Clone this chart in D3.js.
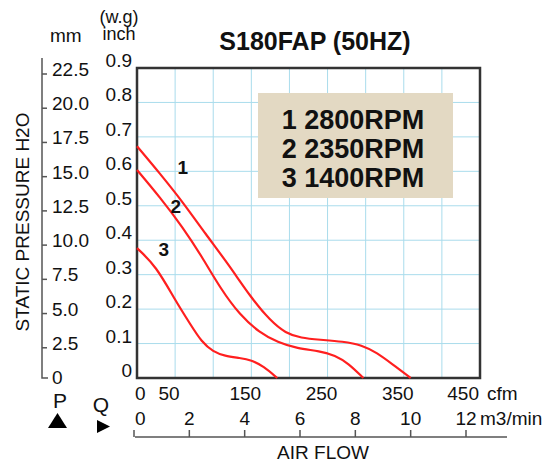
<!DOCTYPE html>
<html lang="en">
<head>
    <meta charset="UTF-8">
    <title>S180FAP (50HZ)</title>
    <style>
        html, body {
            margin: 0;
            padding: 0;
            background: #fff;
        }
        svg text {
            font-family: "Liberation Sans", Arial, sans-serif;
            fill: #111;
        }
    </style>
</head>
<body>
    <div id="chart"></div>

    <script src="https://d3js.org/d3.v7.min.js"></script>
    <script>
        // tick values
        const cfmLabels = [0, 50, 150, 250, 350, 450];
        const cfmGrid = [50, 100, 150, 200, 250, 300, 350, 400];
        const inchTicks = [0, 0.1, 0.2, 0.3, 0.4, 0.5, 0.6, 0.7, 0.8, 0.9];
        const mmTicks = [0, 2.5, 5.0, 7.5, 10.0, 12.5, 15.0, 17.5, 20.0, 22.5];
        const m3Ticks = [0, 2, 4, 6, 8, 10, 12];
        const legendLines = ['1 2800RPM', '2 2350RPM', '3 1400RPM'];

        // curves: [cfm, inch H2O]
        const curve2800 = [
            [0, 0.673], [30, 0.594], [60, 0.511], [90, 0.418], [120, 0.330],
            [150, 0.232], [175, 0.166], [195, 0.130], [215, 0.116], [240, 0.111],
            [270, 0.106], [295, 0.096], [315, 0.073], [335, 0.040], [359, 0]
        ];
        const curve2350 = [
            [0, 0.604], [30, 0.525], [60, 0.438], [85, 0.353], [110, 0.258],
            [135, 0.183], [160, 0.133], [185, 0.103], [210, 0.086], [240, 0.078],
            [260, 0.066], [277, 0.043], [297, 0]
        ];
        const curve1400 = [
            [0, 0.377], [25, 0.325], [50, 0.226], [70, 0.156], [85, 0.104],
            [100, 0.076], [115, 0.064], [135, 0.058], [150, 0.052], [166, 0.034],
            [184, 0]
        ];
        const curveTags = [
            { text: '1', at: [60, 0.592] },
            { text: '2', at: [51, 0.479] },
            { text: '3', at: [35, 0.354] }
        ];

        const width = 546, height = 466;
        const svg = d3.select('#chart').append('svg')
            .attr('width', width)
            .attr('height', height);

        const x = d3.scaleLinear().domain([0, 450]).range([137, 480]);
        const y = d3.scaleLinear().domain([0, 0.9]).range([378, 68]);
        const yMm = d3.scaleLinear().domain([0, 22.5]).range([382, 74]);
        const xM3 = d3.scaleLinear().domain([0, 12]).range([134, 466]);

        // grid
        svg.append('g').selectAll('line')
            .data(cfmGrid)
            .enter().append('line')
            .attr('x1', d => x(d)).attr('x2', d => x(d))
            .attr('y1', y(0.9)).attr('y2', y(0))
            .attr('stroke', '#a9dcec').attr('stroke-width', 1);

        svg.append('g').selectAll('line')
            .data(inchTicks.slice(1, -1))
            .enter().append('line')
            .attr('x1', x(0)).attr('x2', x(450))
            .attr('y1', d => y(d)).attr('y2', d => y(d))
            .attr('stroke', '#a9dcec').attr('stroke-width', 1);

        // legend box
        svg.append('rect')
            .attr('x', 258).attr('y', 93)
            .attr('width', 195).attr('height', 105)
            .attr('fill', '#e3d9c3');

        svg.append('g').selectAll('text')
            .data(legendLines)
            .enter().append('text')
            .attr('x', 353)
            .attr('y', (d, i) => 129 + i * 29)
            .attr('text-anchor', 'middle')
            .attr('font-size', '27px')
            .attr('font-weight', 'bold')
            .text(d => d);

        // plot frame
        svg.append('rect')
            .attr('x', x(0)).attr('y', y(0.9))
            .attr('width', x(450) - x(0))
            .attr('height', y(0) - y(0.9))
            .attr('fill', 'none')
            .attr('stroke', '#333')
            .attr('stroke-width', 2.5);

        // curves
        const line = d3.line()
            .x(d => x(d[0]))
            .y(d => y(d[1]))
            .curve(d3.curveBasis);

        svg.append('g').selectAll('path')
            .data([curve2800, curve2350, curve1400])
            .enter().append('path')
            .attr('d', line)
            .attr('fill', 'none')
            .attr('stroke', '#ff1f1f')
            .attr('stroke-width', 2.2);

        svg.append('g').selectAll('text')
            .data(curveTags)
            .enter().append('text')
            .attr('x', d => x(d.at[0]))
            .attr('y', d => y(d.at[1]))
            .attr('text-anchor', 'middle')
            .attr('font-size', '19px')
            .attr('font-weight', 'bold')
            .text(d => d.text);

        // title
        svg.append('text')
            .attr('x', 315).attr('y', 50)
            .attr('text-anchor', 'middle')
            .attr('font-size', '25px')
            .attr('font-weight', 'bold')
            .text('S180FAP (50HZ)');

        // inch axis labels
        svg.append('g').selectAll('text')
            .data(inchTicks)
            .enter().append('text')
            .attr('x', 132)
            .attr('y', d => y(d) - 1)
            .attr('text-anchor', 'end')
            .attr('font-size', '19px')
            .text(d => d === 0 ? '0' : d.toFixed(1));

        svg.append('text').attr('x', 119).attr('y', 23)
            .attr('text-anchor', 'middle').attr('font-size', '18px').text('(w.g)');
        svg.append('text').attr('x', 119).attr('y', 40)
            .attr('text-anchor', 'middle').attr('font-size', '18px').text('inch');

        // mm axis
        svg.append('path')
            .attr('d', `M42,58 V378 H48`)
            .attr('fill', 'none')
            .attr('stroke', '#555')
            .attr('stroke-width', 1.5);

        svg.append('g').selectAll('line')
            .data(mmTicks.slice(1))
            .enter().append('line')
            .attr('x1', 42).attr('x2', 47)
            .attr('y1', d => yMm(d)).attr('y2', d => yMm(d))
            .attr('stroke', '#555').attr('stroke-width', 1.5);

        svg.append('g').selectAll('text')
            .data(mmTicks)
            .enter().append('text')
            .attr('x', 52)
            .attr('y', d => yMm(d) + 2)
            .attr('font-size', '19px')
            .text(d => d === 0 ? '0' : d.toFixed(1));

        svg.append('text').attr('x', 50).attr('y', 42)
            .attr('font-size', '19px').text('mm');

        svg.append('text')
            .attr('transform', 'translate(28.5,222) rotate(-90)')
            .attr('text-anchor', 'middle')
            .attr('font-size', '19px')
            .text('STATIC PRESSURE H2O');

        // cfm labels
        svg.append('g').selectAll('text')
            .data(cfmLabels)
            .enter().append('text')
            .attr('x', (d, i) => i === 0 ? x(d) - 2 : (i === cfmLabels.length - 1 ? x(d) - 1 : x(d) - 6))
            .attr('y', 400)
            .attr('text-anchor', (d, i) => i === 0 ? 'start' : (i === cfmLabels.length - 1 ? 'end' : 'middle'))
            .attr('font-size', '19px')
            .text(d => d);

        svg.append('text').attr('x', 487).attr('y', 400)
            .attr('font-size', '19px').text('cfm');

        // m3/min axis
        svg.append('line')
            .attr('x1', 135).attr('x2', 507)
            .attr('y1', 437).attr('y2', 437)
            .attr('stroke', '#555').attr('stroke-width', 1.5);

        svg.append('g').selectAll('line')
            .data(m3Ticks)
            .enter().append('line')
            .attr('x1', d => xM3(d)).attr('x2', d => xM3(d))
            .attr('y1', 430).attr('y2', 437)
            .attr('stroke', '#555').attr('stroke-width', 1.5);

        svg.append('g').selectAll('text')
            .data(m3Ticks)
            .enter().append('text')
            .attr('x', d => d === 0 ? xM3(d) + 1 : xM3(d))
            .attr('y', 425)
            .attr('text-anchor', d => d === 0 ? 'start' : 'middle')
            .attr('font-size', '19px')
            .text(d => d);

        svg.append('text').attr('x', 480).attr('y', 425)
            .attr('font-size', '19px').text('m3/min');

        svg.append('text').attr('x', 323).attr('y', 459)
            .attr('text-anchor', 'middle')
            .attr('font-size', '19px')
            .text('AIR FLOW');

        // P / Q markers
        svg.append('text').attr('x', 60).attr('y', 408)
            .attr('text-anchor', 'middle').attr('font-size', '21px').text('P');
        svg.append('text').attr('x', 101).attr('y', 412)
            .attr('text-anchor', 'middle').attr('font-size', '21px').text('Q');

        svg.append('path')
            .attr('d', 'M48,428 L57.5,413 L67,428 Z')
            .attr('fill', '#000');
        svg.append('path')
            .attr('d', 'M97,420 L110,426.5 L97,433 Z')
            .attr('fill', '#000');
    </script>
</body>
</html>
